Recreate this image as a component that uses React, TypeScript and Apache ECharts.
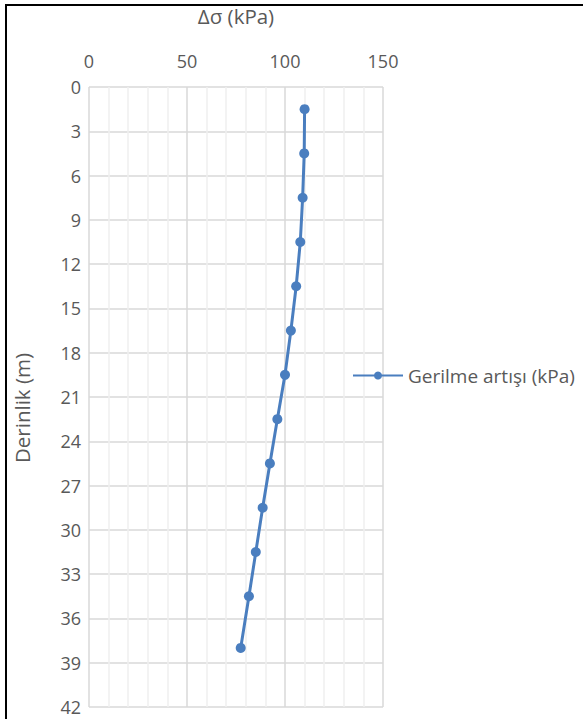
import React, { useEffect, useRef } from "react";
import * as echarts from "echarts";

const depths = [1.5, 4.5, 7.5, 10.5, 13.5, 16.5, 19.5, 22.5, 25.5, 28.5, 31.5, 34.5, 38];
const stressIncrease = [110, 109.8, 109, 107.8, 105.7, 103, 100, 96.1, 92.3, 88.6, 85.1, 81.6, 77.4];
const seriesName = "Gerilme artışı (kPa)";
const xAxisTitle = "Δσ (kPa)";
const yAxisTitle = "Derinlik (m)";

export default function App() {
  const ref = useRef<HTMLDivElement>(null);
  useEffect(() => {
    if (!ref.current) return;
    const chart = echarts.init(ref.current, undefined, { renderer: "svg" });
    const font = "'Open Sans', 'Noto Sans', sans-serif";
    const blue = "#4A7EBF";
    chart.setOption({
      animation: false,
      backgroundColor: "#ffffff",
      textStyle: { fontFamily: font },
      graphic: [
        {
          type: "rect",
          shape: { x: 6, y: 5, width: 700, height: 800 },
          style: { fill: "none", stroke: "#000000", lineWidth: 2 },
          silent: true,
        },
      ],
      grid: { left: 89, top: 83, width: 294, height: 624 },
      legend: {
        left: 347,
        top: 361,
        itemWidth: 50,
        itemHeight: 10,
        itemGap: 4,
        textStyle: { color: "#595959", fontSize: 19, fontFamily: font },
        data: [seriesName],
      },
      xAxis: {
        type: "value",
        position: "top",
        min: 0,
        max: 150,
        interval: 50,
        name: xAxisTitle,
        nameLocation: "middle",
        nameGap: 61,
        nameTextStyle: { color: "#595959", fontSize: 20.5, fontFamily: font },
        axisLine: { show: false },
        axisTick: { show: false },
        axisLabel: { color: "#595959", fontSize: 18, margin: 17, fontFamily: font },
        splitLine: { show: true, lineStyle: { color: "#d9d9d9", width: 1.5 } },
        minorTick: { show: false, splitNumber: 5 },
        minorSplitLine: { show: true, lineStyle: { color: "#efefef", width: 1.5 } },
      },
      yAxis: {
        type: "value",
        inverse: true,
        min: 0,
        max: 42,
        interval: 3,
        name: yAxisTitle,
        nameLocation: "middle",
        nameRotate: 90,
        nameGap: 57,
        nameTextStyle: { color: "#595959", fontSize: 20.5, fontFamily: font, padding: [0, 0, 0, -22] },
        axisLine: { show: false },
        axisTick: { show: false },
        axisLabel: { color: "#595959", fontSize: 18, margin: 8, fontFamily: font },
        splitLine: { show: true, lineStyle: { color: "#d9d9d9", width: 1.5 } },
      },
      series: [
        {
          name: seriesName,
          type: "line",
          data: stressIncrease.map((v, i) => [v, depths[i]]),
          symbol: "circle",
          symbolSize: 10,
          lineStyle: { color: blue, width: 3 },
          itemStyle: { color: blue },
        },
      ],
    });
    return () => chart.dispose();
  }, []);
  return <div ref={ref} style={{ width: 583, height: 719, position: "absolute", left: 0, top: 0 }} />;
}
